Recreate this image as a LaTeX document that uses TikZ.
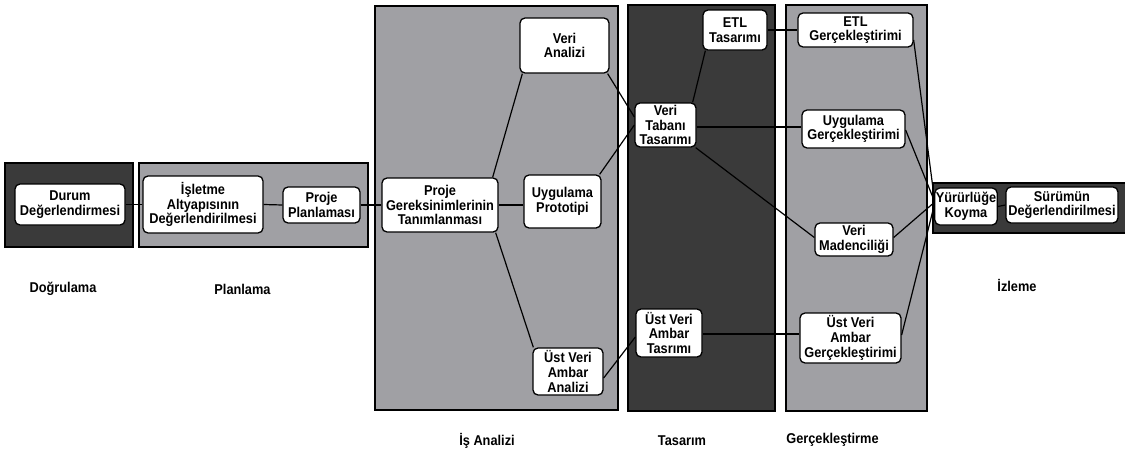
\documentclass[tikz,border=0pt]{standalone}
\usepackage{fontspec}
\setmainfont{Liberation Sans}[FakeStretch=0.9]
\usetikzlibrary{calc}
\definecolor{panelDark}{RGB}{58,58,58}
\definecolor{panelGray}{RGB}{160,160,164}
\tikzset{
  panelbox/.style={draw=black, line width=1.6pt},
  darkpanel/.style={panelbox, fill=panelDark},
  graypanel/.style={panelbox, fill=panelGray},
  stage/.style={draw=black, fill=white, line width=1.3pt, rounded corners=5pt,
    align=center, inner sep=1pt, font=\fontsize{14.2}{14.6}\selectfont\bfseries},
  phase/.style={font=\fontsize{14.2}{14.6}\selectfont\bfseries, inner sep=0pt},
  link/.style={draw=black, line width=1.2pt},
}
\begin{document}
\begin{tikzpicture}[x=1pt, y=-1pt]
\useasboundingbox (0,0) rectangle (1125,455);

% phase panels
\draw[darkpanel] (5,163) rectangle (133,247);
\draw[graypanel] (139,163) rectangle (368,247);
\draw[graypanel] (375,6) rectangle (618,410);
\draw[darkpanel] (628,5) rectangle (775,411);
\draw[graypanel] (786,5) rectangle (927,411);
\draw[darkpanel] (933,183) rectangle (1135,233);

% stages
\node[stage, minimum width=110, minimum height=41] (durum) at (70,204.5) {Durum\\Değerlendirmesi};
\node[stage, minimum width=120, minimum height=57] (isletme) at (203,204.5) {İşletme\\Altyapısının\\Değerlendirilmesi};
\node[stage, minimum width=77, minimum height=36] (pp) at (321.5,205) {Proje\\Planlaması};

\node[stage, minimum width=116, minimum height=54] (pg) at (440,205) {Proje\\Gereksinimlerinin\\Tanımlanması};
\node[stage, minimum width=89, minimum height=55] (va) at (564.5,45.5) {Veri\\Analizi};
\node[stage, minimum width=77, minimum height=53] (up) at (562.5,201.5) {Uygulama\\Prototipi};
\node[stage, minimum width=70, minimum height=47] (uvaa) at (568,371.5) {Üst Veri\\Ambar\\Analizi};

\node[stage, minimum width=64, minimum height=40] (etlt) at (735,30) {ETL\\Tasarımı};
\node[stage, minimum width=61, minimum height=44] (vtt) at (665.5,125) {Veri\\Tabanı\\Tasarımı};
\node[stage, minimum width=66, minimum height=48] (uvat) at (669,333) {Üst Veri\\Ambar\\Tasrımı};

\node[stage, minimum width=115, minimum height=34] (etlg) at (855.5,30) {ETL\\Gerçekleştirimi};
\node[stage, minimum width=103, minimum height=38] (ug) at (853.5,129) {Uygulama\\Gerçekleştirimi};
\node[stage, minimum width=78, minimum height=33] (vm) at (854,239.5) {Veri\\Madenciliği};
\node[stage, minimum width=101, minimum height=50] (uvag) at (850.5,338) {Üst Veri\\Ambar\\Gerçekleştirimi};

\node[stage, minimum width=62, minimum height=37] (yk) at (966,206.5) {Yürürlüğe\\Koyma};
\node[stage, minimum width=112, minimum height=36] (sd) at (1062,205) {Sürümün\\Değerlendirilmesi};

% connectors
\draw[link] (durum.east) -- (isletme.west);
\draw[link] (isletme.east) -- (pp.west);
\draw[link] (pp.east) -- (pg.west);

\draw[link] ([xshift=-6pt]pg.north east) -- ([xshift=3pt]va.south west);
\draw[link] (pg.east) -- (pg.east -| up.west);
\draw[link] ([xshift=-3pt]pg.south east) -- ([xshift=1pt]uvaa.north west);

\draw[link] ([xshift=-2pt]va.south east) -- ([yshift=8pt]vtt.west);
\draw[link] ([xshift=-2pt]up.north east) -- (vtt.west);
\draw[link] ([yshift=-6.5pt]uvaa.east) -- ([yshift=-4pt]uvat.west);

\draw[link] ([xshift=3pt]etlt.south west) -- ([xshift=-4pt]vtt.north east);
\draw[link] (etlt.east) -- (etlg.west);
\draw[link] ([yshift=-2pt]vtt.east) -- ([yshift=-2pt]vtt.east -| ug.west);
\draw[link] ([xshift=-1pt]vtt.south east) -- ([yshift=2pt]vm.west);
\draw[link] ([yshift=-1pt]uvat.east) -- ([yshift=-1pt]uvat.east -| uvag.west);

\draw[link] ([yshift=-10pt]etlg.east) -- ([yshift=9pt]yk.west);
\draw[link] ([yshift=-1pt]ug.east) -- ([yshift=6pt]yk.west);
\draw[link] ([yshift=2pt]vm.east) -- ([yshift=4pt]yk.west);
\draw[link] ([yshift=3pt]uvag.east) -- ([yshift=1pt]yk.west);
\draw[link] (yk.east) -- (sd.west);

% phase names
\node[phase] (dogrulama) at (63,289) {Doğrulama};
\node[phase] (planlama) at (242.5,289) {Planlama};
\node[phase] (isanalizi) at (487,441) {İş Analizi};
\node[phase] (tasarim) at (682,441) {Tasarım};
\node[phase] (gercek) at (832.5,440) {Gerçekleştirme};
\node[phase] (izleme) at (1017,285) {İzleme};
\end{tikzpicture}
\end{document}
